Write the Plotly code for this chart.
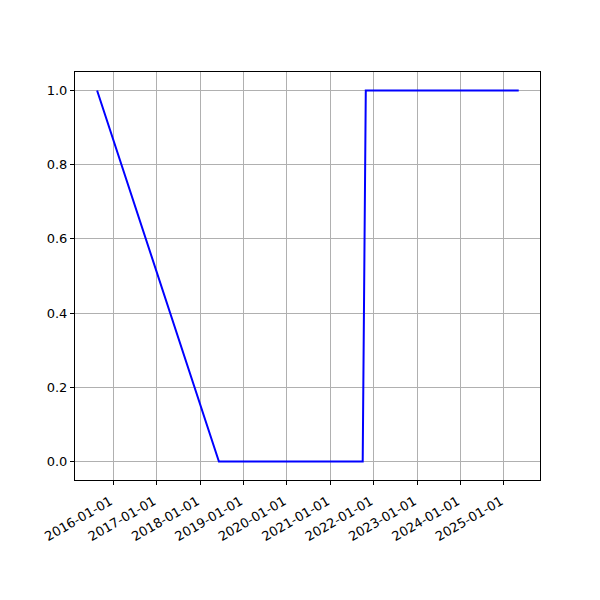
import plotly.graph_objects as go

dates = ["2015-08-18", "2018-06-08", "2021-09-30", "2021-10-26", "2025-05-05"]
values = [1.0, 0.0, 0.0, 1.0, 1.0]
tick_dates = [f"{y}-01-01" for y in range(2016, 2026)]
y_ticks = [0.0, 0.2, 0.4, 0.6, 0.8, 1.0]

fig = go.Figure()
fig.add_trace(go.Scatter(x=dates, y=values, mode="lines",
                         line=dict(color="#0000ff", width=2), showlegend=False))

axis_common = dict(showline=True, linecolor="black", linewidth=1, mirror=True,
                   ticks="outside", ticklen=4, tickcolor="black",
                   showgrid=True, gridcolor="#b0b0b0", gridwidth=1, zeroline=False,
                   automargin=False,
                   tickfont=dict(family="DejaVu Sans", size=13, color="black"))

fig.update_layout(
    width=600, height=600,
    margin=dict(l=67, r=68, t=64, b=128),
    plot_bgcolor="white", paper_bgcolor="white",
    xaxis=dict(type="date", range=["2015-02-13", "2025-10-31"],
               tickvals=tick_dates, ticktext=tick_dates, tickangle=-30,
               ticklabelstandoff=4, ticklabelshift=-3,
               **axis_common),
    yaxis=dict(range=[-0.05, 1.05], tickvals=y_ticks,
               ticktext=[f"{v:.1f}" for v in y_ticks], **axis_common),
)
fig.write_html("out.html")
